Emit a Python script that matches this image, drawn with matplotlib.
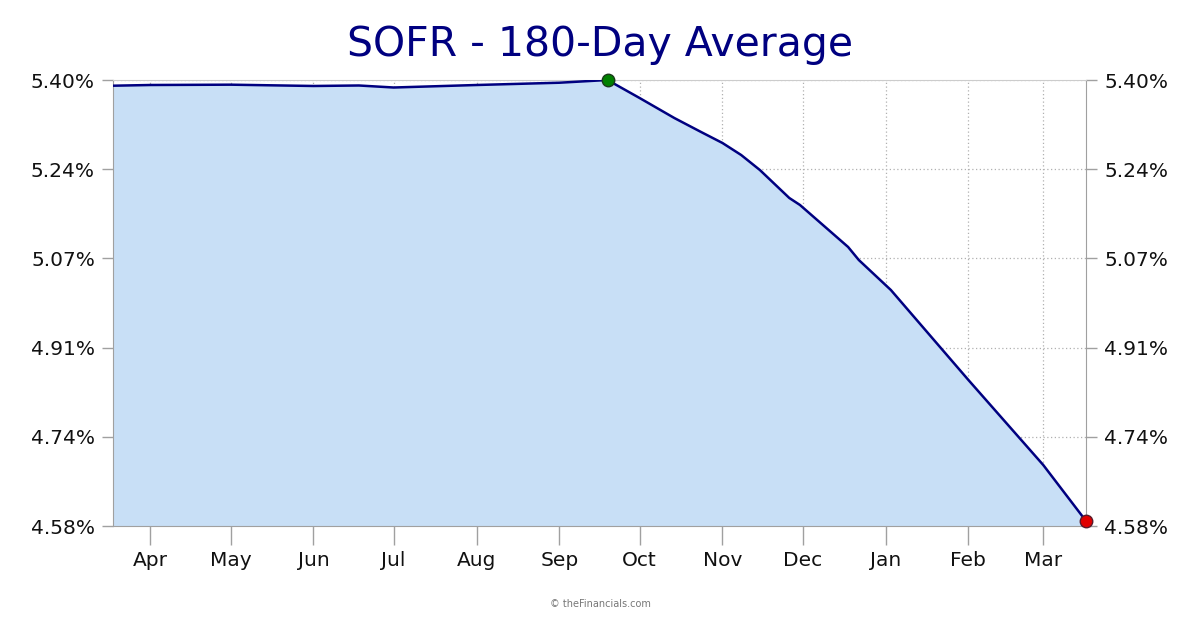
import pandas as pd
import matplotlib
matplotlib.use("Agg")
import matplotlib.pyplot as plt
import matplotlib.dates as mdates
import numpy as np

# 180-day average SOFR (percent)
dates = [
    "2024-03-18", "2024-04-01", "2024-05-01", "2024-06-01", "2024-06-18",
    "2024-07-01", "2024-08-01", "2024-09-01", "2024-09-19", "2024-10-01",
    "2024-10-14", "2024-10-24", "2024-11-01", "2024-11-08", "2024-11-15",
    "2024-11-26", "2024-11-30", "2024-12-18", "2024-12-22", "2025-01-03",
    "2025-02-01", "2025-03-01", "2025-03-17",
]
values = [
    5.3895, 5.3908, 5.3914, 5.3890, 5.3899,
    5.3862, 5.3908, 5.3950, 5.4000, 5.3669,
    5.3301, 5.3044, 5.2842, 5.2621, 5.2345,
    5.1831, 5.1702, 5.0930, 5.0691, 5.0139,
    4.8485, 4.6922, 4.5892,
]
y_min, y_max = 4.58, 5.40

df = pd.DataFrame({"date": pd.to_datetime(dates), "value": values})

fig = plt.figure(figsize=(12, 6.3), dpi=100)
ax = fig.add_axes([113 / 1200, 1 - 526 / 630, (1086 - 113) / 1200, (526 - 80) / 630])

ax.fill_between(df["date"], df["value"], y_min, color="#c8dff6", zorder=2, linewidth=0)
ax.plot(df["date"], df["value"], color="#000080", linewidth=1.8, zorder=3)

i_max = df["value"].idxmax()
i_last = len(df) - 1
ax.plot(df["date"][i_max], df["value"][i_max], "o", color="#008000", markeredgecolor="#1a3a1a",
        markersize=9, zorder=4, clip_on=False)
ax.plot(df["date"][i_last], df["value"][i_last], "o", color="#e00000", markeredgecolor="#5a1a2a",
        markersize=9, zorder=4, clip_on=False)

ax.set_xlim(df["date"].iloc[0], df["date"].iloc[-1])
ax.set_ylim(y_min, y_max)

yticks = np.linspace(y_min, y_max, 6)
ax.set_yticks(yticks)
ax.set_yticklabels([f"{v:.2f}%" for v in yticks])
ax.xaxis.set_major_locator(mdates.MonthLocator())
ax.xaxis.set_major_formatter(mdates.DateFormatter("%b"))

ax.set_axisbelow(True)
ax.grid(True, color="#b0b0b0", linestyle=(0, (1, 2)), linewidth=0.9, zorder=0)

ax.tick_params(axis="y", which="both", left=True, right=True, labelleft=True, labelright=True,
               length=8, width=1, color="#a0a0a0", labelsize=14.5, labelcolor="#111111", pad=5)
ax.tick_params(axis="x", length=14, width=1, color="#a0a0a0", labelsize=14.5,
               labelcolor="#111111", pad=4)

for side in ["left", "right", "bottom"]:
    ax.spines[side].set_color("#a0a0a0")
ax.spines["top"].set_color("#cccccc")

fig.text(0.5, 1 - 45 / 630, "SOFR - 180-Day Average", ha="center", va="center",
         fontsize=29.5, color="#000080")
fig.text(0.5, 1 - 604 / 630, "© theFinancials.com", ha="center", va="center",
         fontsize=7, color="#777777")

fig.savefig("out.png", dpi=100)
